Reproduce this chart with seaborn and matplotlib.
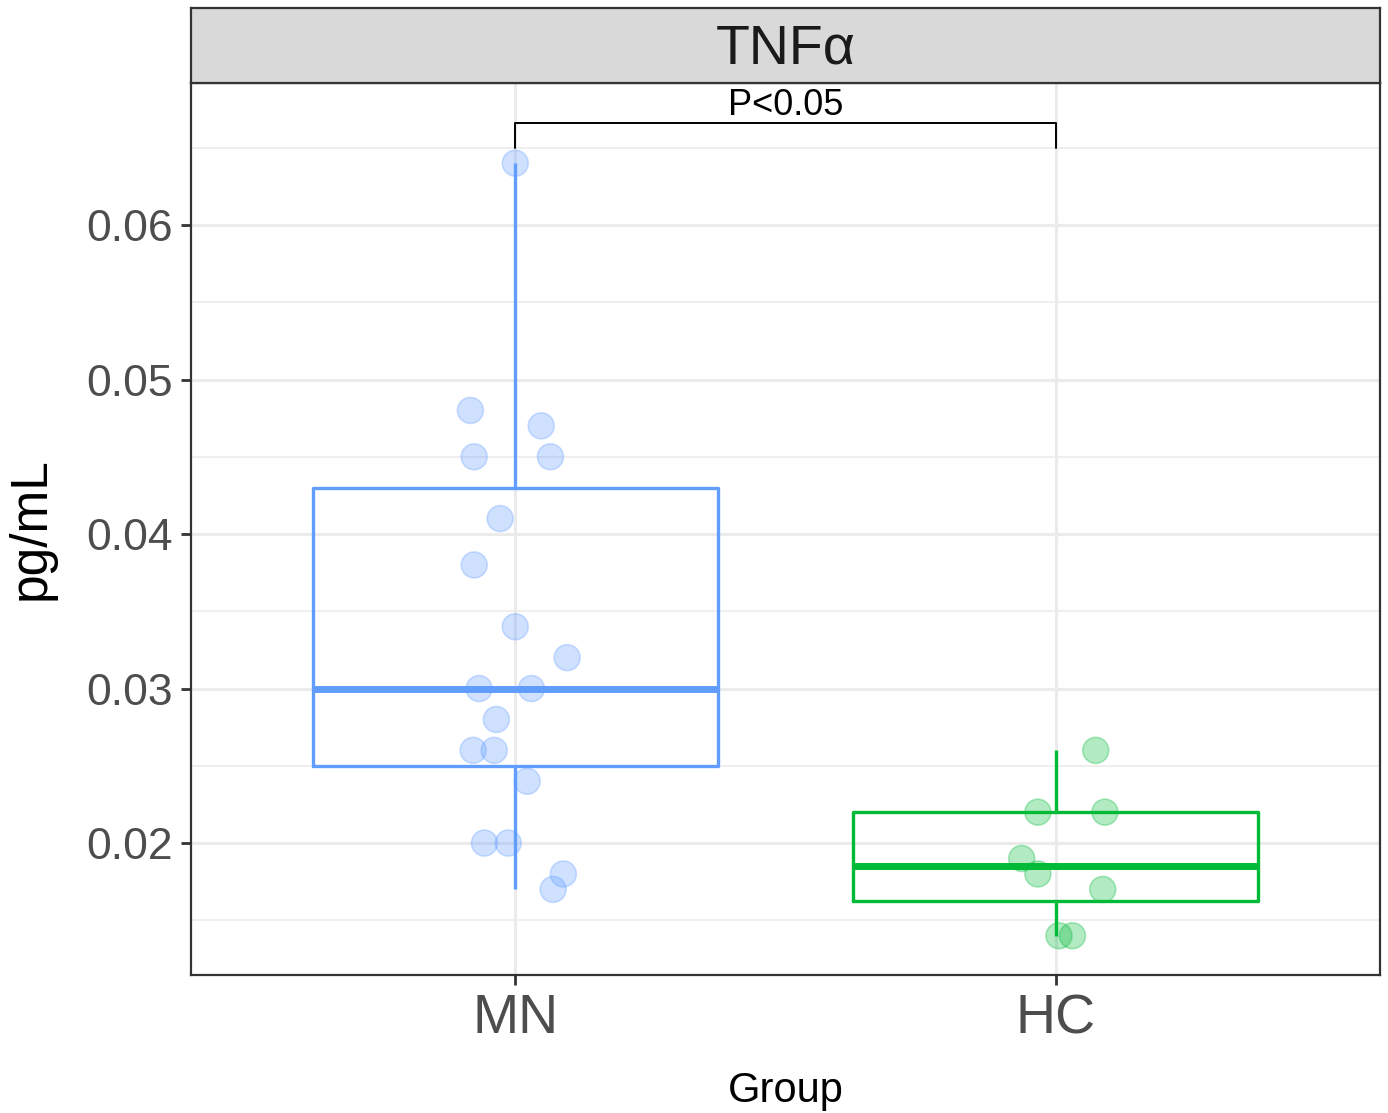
import pandas as pd
import numpy as np
import matplotlib.pyplot as plt
import seaborn as sns
from matplotlib.ticker import MultipleLocator

# values
groups = ['MN', 'HC']
mn_values = [0.064, 0.048, 0.047, 0.045, 0.045, 0.041, 0.038, 0.034, 0.032, 0.030,
             0.030, 0.028, 0.026, 0.026, 0.024, 0.020, 0.020, 0.018, 0.017]
mn_jitter = [0.0, -0.083, 0.048, -0.076, 0.065, -0.028, -0.076, 0.0, 0.096, -0.067,
             0.030, -0.035, -0.078, -0.039, 0.022, -0.057, -0.013, 0.089, 0.070]
hc_values = [0.026, 0.022, 0.022, 0.019, 0.018, 0.017, 0.014, 0.014]
hc_jitter = [0.074, -0.033, 0.091, -0.063, -0.033, 0.087, 0.006, 0.031]
colors = {'MN': '#619CFF', 'HC': '#00BA38'}
panel_title = 'TNF\u03b1'
p_label = 'P<0.05'
bracket_top = 0.0666
bracket_tip = 0.065

df = pd.DataFrame({
    'Group': ['MN'] * len(mn_values) + ['HC'] * len(hc_values),
    'value': mn_values + hc_values,
    'jit': mn_jitter + hc_jitter,
})
df['xpos'] = df['Group'].map({g: i for i, g in enumerate(groups)}) + df['jit']

sns.set_style('white')
plt.rcParams['font.family'] = ['Liberation Sans', 'DejaVu Sans']

fig = plt.figure(figsize=(13.88, 11.13), dpi=100)
ax = fig.add_axes([191 / 1388, 138 / 1113, 1189 / 1388, 892 / 1113])

sns.boxplot(data=df, x='Group', y='value', hue='Group', order=groups, hue_order=groups,
            palette=colors, fill=False, width=0.75, linewidth=2.4, showcaps=False,
            showfliers=False, whis=1.5, medianprops={'linewidth': 5},
            legend=False, ax=ax, zorder=3)
sns.scatterplot(data=df, x='xpos', y='value', hue='Group', hue_order=groups,
                palette=colors, alpha=0.3, s=350, linewidth=1.2, legend=False,
                ax=ax, zorder=4)
for c in ax.collections:
    c.set_edgecolor(c.get_facecolor())

# significance bracket
ax.plot([0, 0, 1, 1], [bracket_tip, bracket_top, bracket_top, bracket_tip],
        color='black', lw=1.4, zorder=5)
ax.text(0.5, 0.0671, p_label, ha='center', va='baseline', fontsize=26, color='black')

ax.set_xlim(-0.6, 1.6)
ax.set_ylim(0.01146, 0.06919)
ax.set_xticks([0, 1])
ax.set_xticklabels(groups)
ax.yaxis.set_minor_locator(MultipleLocator(0.005))
ax.set_yticks([0.02, 0.03, 0.04, 0.05, 0.06])
ax.set_yticklabels(['0.02', '0.03', '0.04', '0.05', '0.06'])
ax.grid(True, which='major', color='#EBEBEB', lw=2.2, zorder=0)
ax.grid(True, which='minor', axis='y', color='#EBEBEB', lw=1.1, zorder=0)
ax.set_axisbelow(True)
ax.tick_params(axis='both', which='major', length=7, width=2, color='#333333',
               labelcolor='#4D4D4D', pad=6, bottom=True, left=True)
ax.tick_params(axis='y', labelsize=32)
ax.tick_params(axis='x', labelsize=40)
ax.tick_params(which='minor', length=0)
for s in ax.spines.values():
    s.set_color('#333333')
    s.set_linewidth(1.6)
ax.set_xlabel('Group', fontsize=30, color='black', labelpad=19)
ax.set_ylabel('pg/mL', fontsize=37, color='black', labelpad=22)

# facet strip
sax = fig.add_axes([191 / 1388, 1030 / 1113, 1189 / 1388, 75 / 1113])
sax.set_facecolor('#D9D9D9')
sax.set_xticks([])
sax.set_yticks([])
for s in sax.spines.values():
    s.set_color('#333333')
    s.set_linewidth(1.6)
sax.text(0.5, 0.45, panel_title, ha='center', va='center', fontsize=40, color='#1A1A1A',
         transform=sax.transAxes)

fig.savefig('out.png', dpi=100)
